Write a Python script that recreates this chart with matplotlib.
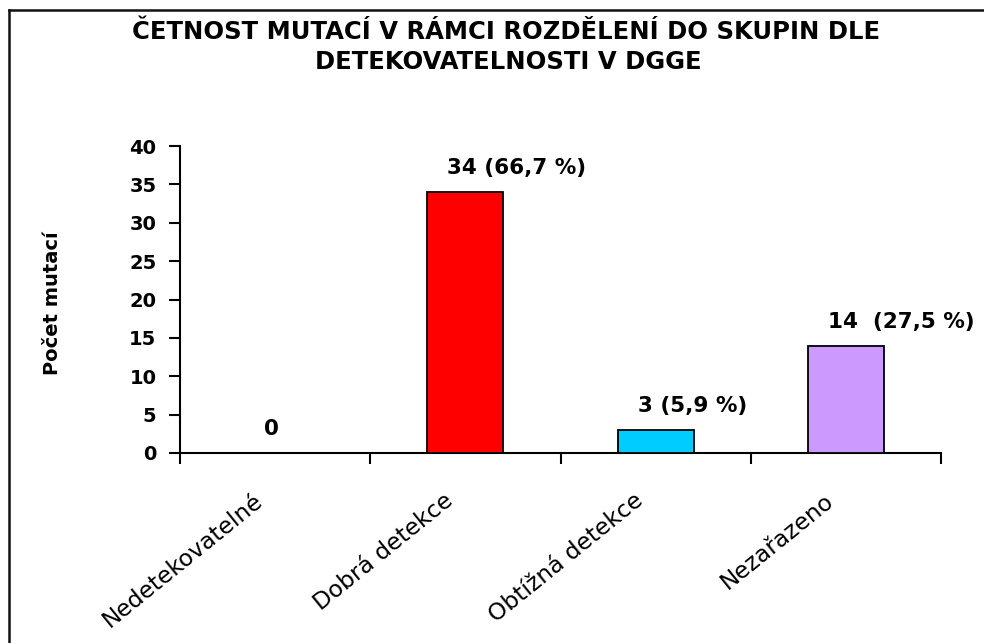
import matplotlib
matplotlib.use("Agg")
import matplotlib.pyplot as plt
from matplotlib.lines import Line2D
from matplotlib.transforms import ScaledTranslation

plt.rcParams['font.family'] = ['DejaVu Sans']

categories = ["Nedetekovatelné", "Dobrá detekce", "Obtížná detekce", "Nezařazeno"]
values = [0, 34, 3, 14]
labels = ["0", "34 (66,7 %)", "3 (5,9 %)", "14  (27,5 %)"]
colors = ["#FFFFFF", "#FF0000", "#00CCFF", "#CC99FF"]
yticks = [0, 5, 10, 15, 20, 25, 30, 35, 40]

W, H = 984, 643
fig = plt.figure(figsize=(W / 100, H / 100), dpi=100)
fig.lines.append(Line2D([9 / W, 9 / W], [-0.1, 1 - 10 / H], transform=fig.transFigure,
                        color="#111111", linewidth=1.8))
fig.lines.append(Line2D([9 / W, 1.1], [1 - 10 / H, 1 - 10 / H], transform=fig.transFigure,
                        color="#111111", linewidth=1.8))

ax = fig.add_axes([180 / W, 1 - 453 / H, (941 - 180) / W, (453 - 146) / H])
x = list(range(len(categories)))
for i, v in enumerate(values):
    if v > 0:
        ax.bar(i, v, width=0.4, color=colors[i], edgecolor="black", linewidth=1.3, zorder=3)

for i, (v, lab) in enumerate(zip(values, labels)):
    ax.annotate(lab, (i - 0.095 if v > 0 else i - 0.06, v), xytext=(0, 17), textcoords="offset points",
                ha="left", va="center", fontsize=15.5, fontweight="bold")

ax.set_xlim(-0.5, 3.5)
ax.set_ylim(0, 40)
ax.set_yticks(yticks)
ax.set_yticklabels([str(t) for t in yticks], fontsize=14, fontweight="bold")
ax.set_xticks([-0.5, 0.5, 1.5, 2.5, 3.5])
ax.set_xticklabels([])
ax.set_xticks(x, minor=True)
ax.set_xticklabels(categories, minor=True, rotation=39, ha="right", va="top",
                   rotation_mode="anchor", fontsize=16.8)
ax.tick_params(axis="x", which="minor", length=0, pad=26)
ax.tick_params(axis="x", which="major", length=8, width=1.5, direction="out")
ax.tick_params(axis="y", length=8, width=1.5, direction="out", pad=9)
shift = ScaledTranslation(-22 / 100, 0, fig.dpi_scale_trans)
for lab in ax.get_xticklabels(minor=True):
    lab.set_transform(lab.get_transform() + shift)
for s in ["top", "right"]:
    ax.spines[s].set_visible(False)
for s in ["left", "bottom"]:
    ax.spines[s].set_linewidth(1.5)
    ax.spines[s].set_color("black")

fig.text(53 / W, 1 - 303 / H, "Počet mutací", rotation=90, ha="center", va="center",
         fontsize=14, fontweight="bold")
fig.text(506 / W, 1 - 32 / H, "ČETNOST MUTACÍ V RÁMCI ROZDĚLENÍ DO SKUPIN DLE", ha="center",
         va="center", fontsize=17.5, fontweight="bold")
fig.text(508 / W, 1 - 62 / H, "DETEKOVATELNOSTI V DGGE", ha="center", va="center",
         fontsize=17.5, fontweight="bold")

fig.savefig("out.png", dpi=100)
